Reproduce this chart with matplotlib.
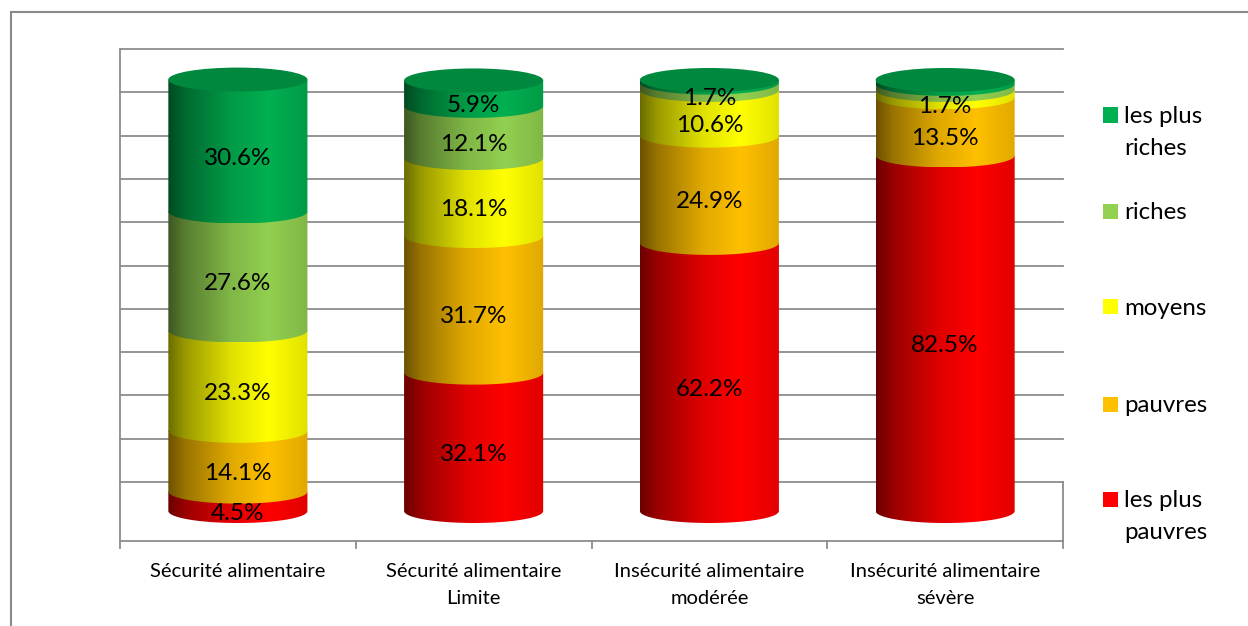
import matplotlib
matplotlib.use("Agg")
import matplotlib.pyplot as plt
import numpy as np
from matplotlib.path import Path
from matplotlib.patches import PathPatch, Ellipse, Rectangle
from matplotlib.colors import to_rgb

plt.rcParams['font.family'] = ['Lato', 'DejaVu Sans']

categories = ["Sécurité alimentaire", "Sécurité alimentaire\nLimite",
              "Insécurité alimentaire\nmodérée", "Insécurité alimentaire\nsévère"]
groups = ["les plus\npauvres", "pauvres", "moyens", "riches", "les plus\nriches"]
colors = ["#FF0000", "#FFC000", "#FFFF00", "#92D050", "#00B050"]

# shares (%) per wealth group, bottom to top of each column
plus_pauvres = [4.5, 32.1, 62.2, 82.5]
pauvres = [14.1, 31.7, 24.9, 13.5]
moyens = [23.3, 18.1, 10.6, 1.7]
riches = [27.6, 12.1, 1.7, 1.4]
plus_riches = [30.6, 5.9, 0.6, 0.9]
series = [plus_pauvres, pauvres, moyens, riches, plus_riches]

# which segments carry a value label
show_label = [[1, 1, 1, 1], [1, 1, 1, 1], [1, 1, 1, 1], [1, 1, 1, 0], [1, 1, 0, 0]]

W, H = 1248, 626
fig = plt.figure(figsize=(W / 100, H / 100), dpi=100)

# outer frame
fig.add_artist(Rectangle((11 / W, -0.1), 1.2, 1 - 12 / H + 0.1, transform=fig.transFigure,
                         fill=False, edgecolor="#8a8a8a", linewidth=1.5))

left, right, top, bottom = 120, 1063, 49, 541
ax = fig.add_axes([left / W, (H - bottom) / H, (right - left) / W, (bottom - top) / H])
ax.axis("off")

ppu = 4.31  # pixels per percent
y0_px = 511
ylim = (-(bottom - y0_px) / ppu, (y0_px - top) / ppu)


def frac(p):
    return (bottom - p) / (bottom - top)


# back wall grid and floor edges
grid_col = "#8c8c8c"
for p in np.linspace(49, 482, 11):
    ax.plot([0, 1], [frac(p), frac(p)], transform=ax.transAxes, color=grid_col,
            lw=1.3, zorder=0, clip_on=False)
ax.plot([0, 0], [0, 1], transform=ax.transAxes, color=grid_col, lw=1.3, clip_on=False)
ax.plot([0, 1], [0, 0], transform=ax.transAxes, color=grid_col, lw=1.3, clip_on=False)
ax.plot([1, 1], [0, frac(482)], transform=ax.transAxes, color=grid_col, lw=1.3, clip_on=False)
for k in range(5):
    fx = k / 4
    ax.plot([fx, fx], [0, -7 / (bottom - top)], transform=ax.transAxes,
            color=grid_col, lw=1.3, clip_on=False)

width = 0.59
ell = 12 / ppu  # half height of the cylinder ellipses in data units
tt = np.linspace(0, 1, 300)
shade = np.interp(tt, [0, 0.12, 0.45, 0.72, 1.0], [0.42, 0.6, 0.88, 1.0, 0.88])
theta = np.linspace(np.pi, 2 * np.pi, 60)

for i in range(len(categories)):
    x0, x1 = i - width / 2, i + width / 2
    base = 0
    z = 2
    for j, vals in enumerate(series):
        v = vals[i]
        ya, yb = base, base + v
        arc = np.column_stack([i + width / 2 * np.cos(theta), ya + ell * np.sin(theta)])
        verts = np.vstack([[x0, yb], [x0, ya], arc, [x1, ya], [x1, yb], [x0, yb]])
        codes = [Path.MOVETO] + [Path.LINETO] * (len(verts) - 2) + [Path.CLOSEPOLY]
        patch = PathPatch(Path(verts, codes), facecolor="none", edgecolor="none")
        ax.add_patch(patch)
        img = shade[None, :, None] * np.array(to_rgb(colors[j]))[None, None, :]
        im = ax.imshow(img, extent=(x0, x1, ya - ell, yb), aspect="auto",
                       interpolation="bilinear", origin="lower", zorder=z)
        im.set_clip_path(patch)
        z += 1
        if show_label[j][i]:
            ax.text(i, (ya + yb) / 2 - ell * 1.05, f"{v:.1f}%", ha="center", va="center",
                    fontsize=17.5, color="black", zorder=20)
        base = yb
    top_rgb = np.array(to_rgb(colors[-1])) * 0.78
    ax.add_patch(Ellipse((i, base), width, 2 * ell, facecolor=top_rgb, edgecolor="none", zorder=z))

ax.set_xlim(-0.5, 3.5)
ax.set_ylim(*ylim)

# category labels under the floor
for i, cat in enumerate(categories):
    fx = (left + (i + 0.5) / 4 * (right - left)) / W
    for n, line in enumerate(cat.split("\n")):
        fig.text(fx, 1 - (577 + 27 * n) / H, line, ha="center", va="baseline", fontsize=14.5)

# legend, top entry first
leg_y = [115, 211, 307, 404, 499]
for k, j in enumerate(range(len(groups) - 1, -1, -1)):
    yc = leg_y[k]
    fig.add_artist(Rectangle((1103 / W, 1 - (yc + 7.5) / H), 15 / W, 15 / H,
                             transform=fig.transFigure, facecolor=colors[j], edgecolor="none"))
    for n, line in enumerate(groups[j].split("\n")):
        fig.text(1124 / W, 1 - (yc + 8 + 32 * n) / H, line, ha="left", va="baseline",
                 fontsize=17.3)

fig.savefig("out.png", dpi=100)
